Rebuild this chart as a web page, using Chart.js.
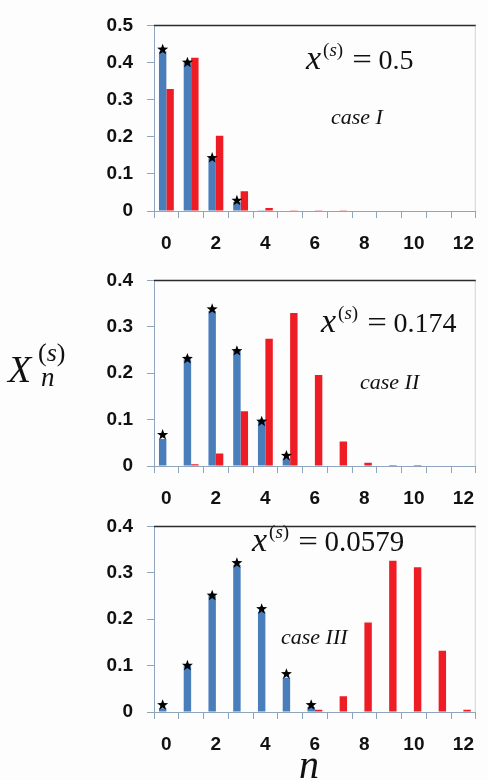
<!DOCTYPE html>
<html lang="en">
<head>
    <meta charset="UTF-8">
    <title>X_n(s) distributions</title>
    <script src="https://cdn.jsdelivr.net/npm/chart.js"></script>
    <style>
        body {
            margin: 0;
            background: #fdfdfd;
            width: 488px;
            height: 780px;
            position: relative;
            overflow: hidden;
        }
        canvas {
            position: absolute;
            left: 0;
        }
        .txt {
            position: absolute;
            font-family: "Liberation Serif", "Times New Roman", serif;
            line-height: 1;
            white-space: nowrap;
            color: #111;
        }
        .f { font-size: 34px; }
        .f .x { font-style: italic; }
        .f .sup { position: relative; top: -13px; font-size: 19px; margin-left: 2px; }
        .f .eq { display: inline-block; font-size: 29px; transform: scaleX(1.2); margin: 0 8px 0 11px; }
        .f .num { font-size: 28px; }
    </style>
</head>
<body>
    <canvas id="c1" width="488" height="255" style="top:0px"></canvas>
    <canvas id="c2" width="488" height="255" style="top:255px"></canvas>
    <canvas id="c3" width="488" height="255" style="top:501px"></canvas>

    <!-- formula and case labels -->
    <div class="txt f" style="left:306px;top:41px"><span class="x">x</span><span class="sup">(<i>s</i>)</span><span class="eq">=</span><span class="num">0.5</span></div>
    <div class="txt" style="left:331px;top:106px;font-size:22px"><i>case I</i></div>

    <div class="txt f" style="left:321px;top:304px"><span class="x">x</span><span class="sup">(<i>s</i>)</span><span class="eq">=</span><span class="num">0.174</span></div>
    <div class="txt" style="left:360px;top:371px;font-size:22px"><i>case II</i></div>

    <div class="txt f" style="left:252px;top:523px"><span class="x">x</span><span class="sup">(<i>s</i>)</span><span class="eq">=</span><span class="num" style="font-size:29px">0.0579</span></div>
    <div class="txt" style="left:281px;top:626px;font-size:22px"><i>case III</i></div>

    <!-- axis titles -->
    <div class="txt" style="left:8px;top:350px;font-size:38px"><i>X</i></div>
    <div class="txt" style="left:38px;top:340px;font-size:26px">(<i>s</i>)</div>
    <div class="txt" style="left:41px;top:364px;font-size:27px"><i>n</i></div>
    <div class="txt" style="left:299px;top:745px;font-size:40px"><i>n</i></div>

    <script>
        // categories n = 0..12
        const nValues = ['0', '1', '2', '3', '4', '5', '6', '7', '8', '9', '10', '11', '12'];

        // case I, x(s) = 0.5
        const blue1 = [0.43, 0.40, 0.142, 0.024, 0.002, 0, 0, 0, 0, 0, 0, 0, 0];
        const red1  = [0.329, 0.413, 0.203, 0.053, 0.008, 0.002, 0.002, 0.002, 0, 0, 0, 0, 0];
        const star1 = [0.435, 0.40, 0.143, 0.028];

        // case II, x(s) = 0.174
        const blue2 = [0.058, 0.23, 0.334, 0.248, 0.097, 0.016, 0, 0, 0, 0, 0, 0, 0];
        const red2  = [0.001, 0.004, 0.027, 0.118, 0.274, 0.330, 0.196, 0.053, 0.007, 0.002, 0.002, 0, 0];
        const star2 = [0.067, 0.231, 0.338, 0.248, 0.096, 0.022];

        // case III, x(s) = 0.0579
        const blue3 = [0.008, 0.10, 0.251, 0.317, 0.216, 0.074, 0.011, 0, 0, 0, 0, 0, 0];
        const red3  = [0, 0, 0, 0, 0.001, 0.001, 0.005, 0.034, 0.193, 0.326, 0.312, 0.132, 0.005];
        const star3 = [0.015, 0.10, 0.251, 0.321, 0.222, 0.082, 0.015];

        const BLUE = '#4a7ebb';
        const RED = '#ee1c24';
        const AXIS = '#8ea5bb';

        function drawStar(ctx, cx, cy, R, r) {
            ctx.beginPath();
            for (let k = 0; k < 10; k++) {
                const rad = k % 2 === 0 ? R : r;
                const a = -Math.PI / 2 + k * Math.PI / 5;
                const px = cx + rad * Math.cos(a);
                const py = cy + rad * Math.sin(a);
                if (k === 0) ctx.moveTo(px, py); else ctx.lineTo(px, py);
            }
            ctx.closePath();
            ctx.fill();
        }

        // stars sit on top of the blue bars
        const starPlugin = {
            id: 'stars',
            afterDatasetsDraw(chart, args, opts) {
                const meta = chart.getDatasetMeta(0);
                const ys = chart.scales.y;
                const ctx = chart.ctx;
                ctx.save();
                ctx.fillStyle = '#000';
                opts.values.forEach((v, i) => {
                    if (v == null) return;
                    drawStar(ctx, meta.data[i].x, ys.getPixelForValue(v), 5.8, 2.4);
                });
                ctx.restore();
            }
        };

        // dark top edge + light right edge of the plot box
        const framePlugin = {
            id: 'frame',
            afterDraw(chart) {
                const a = chart.chartArea;
                const ctx = chart.ctx;
                ctx.save();
                ctx.strokeStyle = '#c9d3dd';
                ctx.lineWidth = 1;
                ctx.beginPath();
                ctx.moveTo(a.right - 0.5, a.top);
                ctx.lineTo(a.right - 0.5, a.bottom);
                ctx.stroke();
                ctx.strokeStyle = '#2b2b2b';
                ctx.lineWidth = 1.5;
                ctx.beginPath();
                ctx.moveTo(a.left, a.top);
                ctx.lineTo(a.right, a.top);
                ctx.stroke();
                ctx.restore();
            }
        };

        function makeChart(id, blue, red, stars, ymax) {
            new Chart(document.getElementById(id), {
                type: 'bar',
                data: {
                    labels: nValues,
                    datasets: [
                        { data: blue, backgroundColor: BLUE, categoryPercentage: 0.6, barPercentage: 1.0 },
                        { data: red, backgroundColor: RED, categoryPercentage: 0.6, barPercentage: 1.0 }
                    ]
                },
                options: {
                    responsive: false,
                    animation: false,
                    layout: { padding: { top: 21, right: 1, left: 0, bottom: 0 } },
                    plugins: {
                        legend: { display: false },
                        tooltip: { enabled: false },
                        stars: { values: stars }
                    },
                    scales: {
                        x: {
                            grid: { offset: true, drawOnChartArea: false, tickLength: 7, color: AXIS },
                            border: { color: AXIS },
                            ticks: {
                                autoSkip: false,
                                maxRotation: 0,
                                padding: 14,
                                color: '#111',
                                font: { family: 'Liberation Sans', weight: 'bold', size: 19 },
                                callback: (v, i) => (i % 2 === 0 ? nValues[i] : '')
                            },
                            afterFit: s => { s.height = 44; }
                        },
                        y: {
                            min: 0,
                            max: ymax,
                            grid: { drawOnChartArea: false, tickLength: 7, color: AXIS },
                            border: { color: AXIS },
                            ticks: {
                                stepSize: 0.1,
                                padding: 14,
                                color: '#111',
                                font: { family: 'Liberation Sans', weight: 'bold', size: 19 },
                                callback: v => (v === 0 ? '0' : v.toFixed(1))
                            },
                            afterFit: s => { s.width = 154; }
                        }
                    }
                },
                plugins: [starPlugin, framePlugin]
            });
        }

        makeChart('c1', blue1, red1, star1, 0.5);
        makeChart('c2', blue2, red2, star2, 0.4);
        makeChart('c3', blue3, red3, star3, 0.4);
    </script>
</body>
</html>
